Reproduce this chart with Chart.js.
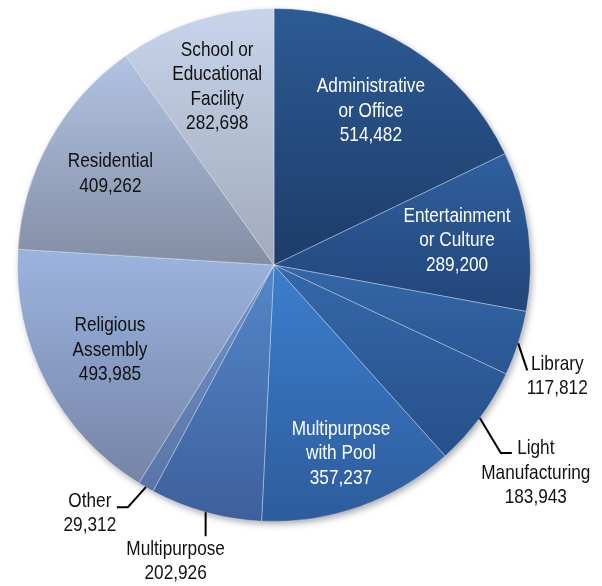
<!DOCTYPE html>
<html>
<head>
<meta charset="utf-8">
<script src="https://cdn.jsdelivr.net/npm/chart.js@4.4.1/dist/chart.umd.min.js"></script>
<style>
  html, body { margin: 0; padding: 0; background: #fff; }
  #wrap { width: 602px; height: 586px; position: relative; }
</style>
</head>
<body>
<div id="wrap"><canvas id="pie"></canvas></div>
<script>
// data
var categorias = [
  ['Administrative', 'or Office'],
  ['Entertainment', 'or Culture'],
  ['Library'],
  ['Light', 'Manufacturing'],
  ['Multipurpose', 'with Pool'],
  ['Multipurpose'],
  ['Other'],
  ['Religious', 'Assembly'],
  ['Residential'],
  ['School or', 'Educational', 'Facility']
]
var valores = [514482, 289200, 117812, 183943, 357237, 202926, 29312, 493985, 409262, 282698]

// cores (topo, base) de cada fatia
var corTopo = ['#2c5b94', '#2f609e', '#3467a8', '#3568aa', '#3c7ecd', '#5487ca', '#7393c9', '#9bb4df', '#b1c3e3', '#c7d4eb']
var corBase = ['#1d3c69', '#22457a', '#2a5592', '#26508a', '#2d5c9c', '#3d609b', '#5a74a6', '#7584a6', '#838ea4', '#a2aabc']
var corTexto = ['#fff', '#fff', '#111', '#111', '#fff', '#111', '#111', '#111', '#111', '#111']

// posicao dos rotulos: raio relativo (dentro) ou linha de chamada (fora)
var raioRotulo = [0.71, 0.72, 0, 0, 0.78, 0, 0, 0.72, 0.73, 0.73]
var chamada = {
  2: { pts: [[9, 27]], texto: [30, 6] },
  3: { pts: [[21, 35], [32, 35]], texto: [24, 20] },
  5: { pts: [[0, 24]], texto: [-30, 25] },
  6: { pts: [[-18, 20], [-29, 20]], texto: [-27, 6] }
}

// Arial Narrow nao existe aqui: Liberation Sans comprimida na horizontal
var fonte = '21px "Liberation Sans", Arial, sans-serif'
var estreito = 0.82
var total = valores.reduce(function (a, b) { return a + b }, 0)

function formatar(n) {
  return n.toLocaleString('en-US')
}

// limites verticais de um setor, para o gradiente de cada fatia
function limitesSetor(cx, cy, r, a0, a1) {
  var ys = [cy, cy + r * Math.sin(a0), cy + r * Math.sin(a1)]
  var k = Math.ceil((a0 - Math.PI / 2) / (2 * Math.PI))
  for (var t = Math.PI / 2 + 2 * Math.PI * k; t <= a1; t += 2 * Math.PI) {
    if (t >= a0) ys.push(cy + r)
  }
  k = Math.ceil((a0 + Math.PI / 2) / (2 * Math.PI))
  for (var t2 = -Math.PI / 2 + 2 * Math.PI * k; t2 <= a1; t2 += 2 * Math.PI) {
    if (t2 >= a0) ys.push(cy - r)
  }
  return [Math.min.apply(null, ys), Math.max.apply(null, ys)]
}

function gradienteFatia(ctx) {
  var chart = ctx.chart
  var area = chart.chartArea
  var i = ctx.dataIndex
  if (!area) return corTopo[i]
  var cx = (area.left + area.right) / 2
  var cy = (area.top + area.bottom) / 2
  var r = Math.min(area.right - area.left, area.bottom - area.top) / 2
  var antes = 0
  for (var j = 0; j < i; j++) antes += valores[j]
  var a0 = -Math.PI / 2 + antes / total * 2 * Math.PI
  var a1 = a0 + valores[i] / total * 2 * Math.PI
  var lim = limitesSetor(cx, cy, r, a0, a1)
  var g = chart.ctx.createLinearGradient(0, lim[0], 0, lim[1])
  g.addColorStop(0, corTopo[i])
  g.addColorStop(1, corBase[i])
  return g
}

var sombra = {
  id: 'sombra',
  beforeDatasetsDraw: function (chart) {
    var arc = chart.getDatasetMeta(0).data[0]
    if (!arc) return
    var c = chart.ctx
    c.save()
    c.shadowColor = 'rgba(0,0,0,0.35)'
    c.shadowBlur = 7
    c.shadowOffsetX = 2
    c.shadowOffsetY = 3
    c.fillStyle = '#8a9ab5'
    c.beginPath()
    c.arc(arc.x, arc.y, arc.outerRadius - 0.5, 0, 2 * Math.PI)
    c.fill()
    c.restore()
  }
}

var rotulos = {
  id: 'rotulos',
  afterDatasetsDraw: function (chart) {
    var c = chart.ctx
    var meta = chart.getDatasetMeta(0)
    c.save()
    c.font = fonte
    c.textAlign = 'center'
    c.textBaseline = 'middle'
    meta.data.forEach(function (arc, i) {
      var meio = (arc.startAngle + arc.endAngle) / 2
      var linhas = categorias[i].concat([formatar(valores[i])])
      var tx, ty
      if (chamada[i]) {
        var x0 = arc.x + Math.cos(meio) * arc.outerRadius
        var y0 = arc.y + Math.sin(meio) * arc.outerRadius
        c.strokeStyle = '#000'
        c.lineWidth = 2
        c.beginPath()
        c.moveTo(x0, y0)
        chamada[i].pts.forEach(function (p) { c.lineTo(x0 + p[0], y0 + p[1]) })
        c.stroke()
        var ult = chamada[i].pts[chamada[i].pts.length - 1]
        tx = x0 + ult[0] + chamada[i].texto[0]
        ty = y0 + ult[1] + chamada[i].texto[1]
      } else {
        tx = arc.x + Math.cos(meio) * arc.outerRadius * raioRotulo[i]
        ty = arc.y + Math.sin(meio) * arc.outerRadius * raioRotulo[i]
      }
      c.fillStyle = corTexto[i]
      var alt = 24.5
      linhas.forEach(function (t, k) {
        c.save()
        c.translate(tx, ty + (k - (linhas.length - 1) / 2) * alt)
        c.scale(estreito, 1)
        c.fillText(t, 0, 0)
        c.restore()
      })
    })
    c.restore()
  }
}

var grafico = new Chart(document.getElementById('pie'), {
  type: 'pie',
  data: {
    labels: categorias.map(function (l) { return l.join(' ') }),
    datasets: [{
      data: valores,
      backgroundColor: gradienteFatia,
      borderColor: 'rgba(255,255,255,0.35)',
      borderWidth: 1
    }]
  },
  options: {
    responsive: true,
    maintainAspectRatio: false,
    animation: false,
    layout: { padding: { left: 17, right: 71, top: 8, bottom: 64 } },
    plugins: {
      legend: { display: false },
      tooltip: { enabled: false }
    }
  },
  plugins: [sombra, rotulos]
})
</script>
</body>
</html>
